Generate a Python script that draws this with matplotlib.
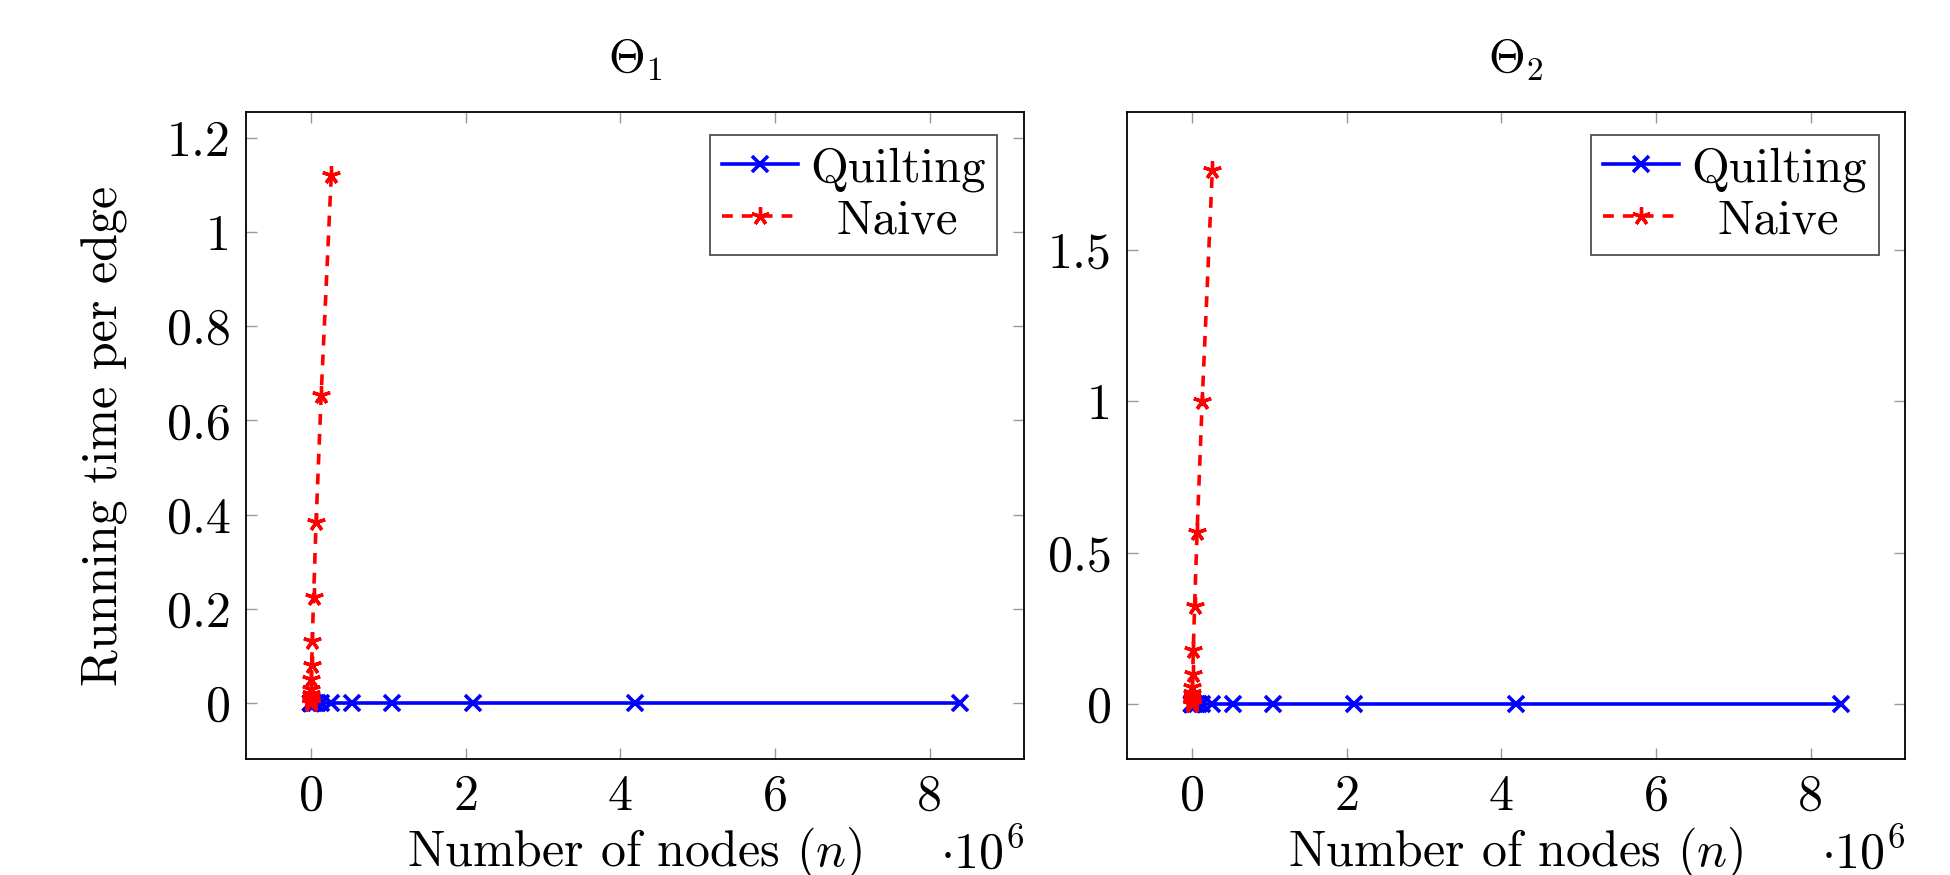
import matplotlib.pyplot as plt

plt.rcParams["font.family"] = "cmr10"
plt.rcParams["mathtext.fontset"] = "cm"
plt.rcParams["axes.formatter.use_mathtext"] = True

# -------------------------------
# Data
# -------------------------------
quilt_n = [16, 32, 64, 128, 256, 512, 1024, 2048, 4096, 8192, 16384, 32768,
           65536, 131072, 262144, 524288, 1048576, 2097152, 4194304, 8388608]
quilt_t1 = [3e-6, 3e-6, 3e-6, 3e-6, 3e-6, 3e-6, 3e-6, 3e-6, 3e-6, 3e-6,
            3e-6, 3e-6, 3e-6, 3e-6, 3e-6, 3e-6, 3e-6, 3e-6, 3e-6, 3e-6]
quilt_t2 = [4e-6, 4e-6, 4e-6, 4e-6, 4e-6, 4e-6, 4e-6, 4e-6, 4e-6, 4e-6,
            4e-6, 4e-6, 4e-6, 4e-6, 4e-6, 4e-6, 4e-6, 4e-6, 4e-6, 4e-6]

naive_n = [16, 32, 64, 128, 256, 512, 1024, 2048, 4096, 8192, 16384, 32768,
           65536, 131072, 262144]
naive_t1 = [0.0004, 0.0008, 0.0015, 0.003, 0.006, 0.01, 0.018, 0.03, 0.05,
            0.081, 0.132, 0.224, 0.384, 0.654, 1.122]
naive_t2 = [0.0006, 0.0012, 0.0024, 0.0045, 0.008, 0.014, 0.024, 0.038, 0.057,
            0.101, 0.18, 0.323, 0.57, 1.0, 1.765]

titles = [r"$\Theta_1$", r"$\Theta_2$"]
ylims = [(-0.119, 1.255), (-0.181, 1.956)]
yticks = [[0, 0.2, 0.4, 0.6, 0.8, 1, 1.2], [0, 0.5, 1, 1.5]]
ytick_labels = [["0", "0.2", "0.4", "0.6", "0.8", "1", "1.2"],
                ["0", "0.5", "1", "1.5"]]
xticks = [0, 2e6, 4e6, 6e6, 8e6]
xtick_labels = ["0", "2", "4", "6", "8"]

FS = 36

fig = plt.figure(figsize=(19.5, 8.75), dpi=100)
positions = [[0.1262, 0.1326, 0.3989, 0.7394], [0.578, 0.1326, 0.3989, 0.7394]]
series = [(quilt_t1, naive_t1), (quilt_t2, naive_t2)]
legends = []

for i in range(2):
    ax = fig.add_axes(positions[i])
    qt, nt = series[i]
    ax.plot(quilt_n, qt, color="blue", lw=2.6, marker="x", ms=11, mew=2.6,
            label="Quilting")
    ax.plot(naive_n, nt, color="red", lw=2.6, ls=(0, (3, 2.5)), marker=(5, 2, 0),
            ms=13, mew=2.4, label="Naive")
    ax.set_xlim(-0.84e6, 9.22e6)
    ax.set_ylim(*ylims[i])
    ax.set_xticks(xticks)
    ax.set_xticklabels(xtick_labels)
    ax.set_yticks(yticks[i])
    ax.set_yticklabels(ytick_labels[i])
    ax.tick_params(direction="in", length=8, width=1, color="#999999",
                   labelsize=FS, top=True, right=True, pad=11)
    for s in ax.spines.values():
        s.set_linewidth(1.3)
    ax.set_title(titles[i], fontsize=34, pad=28)
    ax.set_xlabel(r"Number of nodes $(n)$", fontsize=FS)
    ax.xaxis.label.set_va("center")
    ax.xaxis.set_label_coords(0.5, -0.146)
    ax.text(1.0, -0.146, r"$\cdot 10^6$", transform=ax.transAxes,
            fontsize=FS, ha="right", va="center")
    if i == 0:
        ax.set_ylabel("Running time per edge", fontsize=FS, labelpad=28)
    leg = ax.legend(loc="upper right", fontsize=35, frameon=True, fancybox=False,
                    edgecolor="#222222", handlelength=1.55, borderpad=0.25,
                    labelspacing=0.15, handletextpad=0.25, borderaxespad=0,
                    bbox_to_anchor=(0.966, 0.965))
    leg.get_frame().set_linewidth(1.3)
    legends.append(leg)

# centre the legend entries like pgfplots does
fig.canvas.draw()
renderer = fig.canvas.get_renderer()
for leg in legends:
    widths = [t.get_window_extent(renderer).width for t in leg.get_texts()]
    wmax = max(widths)
    for t, w in zip(leg.get_texts(), widths):
        t.set_position(((wmax - w) / 2, 0))

fig.savefig("out.png", dpi=100)
